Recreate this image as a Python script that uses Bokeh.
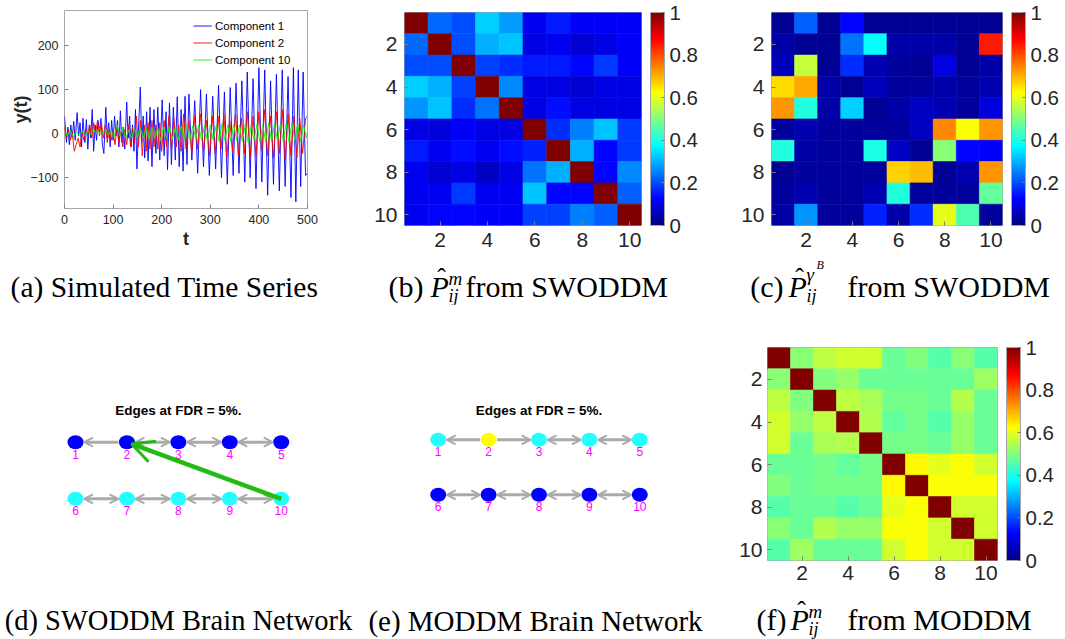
import numpy as np
from bokeh.plotting import figure
from bokeh.layouts import row, column
from bokeh.models import (ColumnDataSource, LinearColorMapper, ColorBar, FixedTicker,
                          CustomJSTickFormatter, Label, Arrow, OpenHead, Range1d,
                          Legend, LegendItem)
from bokeh.core.properties import value
from bokeh.embed import file_html
from bokeh.resources import INLINE

# ---------------------------------------------------------------------------
# Simulated time series, traced as turning points (t, y)
# ---------------------------------------------------------------------------
comp1 = [(0, 40), (4, -20), (7, 15), (10, -25), (13, 20), (16, -10), (19, 28), (22, -15),
         (26, 48), (29, -5), (32, 25), (35, -30), (38, 35), (42, -20), (45, 32), (48, -35),
         (51, 20), (54, -10), (57, 55), (60, -40), (63, 20), (66, -15), (69, 30), (72, 5),
         (75, 35), (78, -25), (81, -45), (85, 60), (88, -10), (91, 25), (94, -30), (97, 30),
         (100, -15), (103, 40), (106, -5), (109, 30), (112, -30), (115, 52), (118, -20),
         (121, 15), (124, -35), (128, 72), (131, -10), (134, 40), (137, -30), (140, 20),
         (143, -40), (146, 55), (149, -80), (153, 30), (156, 106), (159, -20), (162, 40),
         (165, -55), (169, 50), (172, -62), (176, 60), (180, -75), (184, 55), (188, -45),
         (192, 60), (196, -60), (201, 77), (205, -50), (209, 50), (212, -82), (216, 70),
         (220, -70), (224, 60), (228, -60), (232, 84), (236, -75), (240, 55), (244, -85),
         (248, 85), (252, -70), (256, 90), (262, -60), (268, 75), (274, -90), (280, 100),
         (286, -75), (292, 90), (298, -95), (305, 85), (311, -80), (317, 110), (323, -100),
         (329, 95), (335, -115), (341, 105), (347, -95), (353, 115), (359, -90), (365, 120),
         (371, -110), (376, 140), (382, -100), (388, 125), (394, -125), (400, 150),
         (406, -110), (412, 145), (418, -140), (424, 120), (430, -115), (436, 135),
         (442, -130), (448, 145), (454, -120), (460, 130), (466, -145), (471, 150),
         (476, -155), (481, 145), (486, -120), (491, 140), (496, -95), (500, -90)]

comp2 = [(0, 15), (4, -10), (8, 10), (12, -15), (16, 5), (20, -40), (24, -25), (28, -10),
         (32, -30), (36, 5), (40, -15), (44, 10), (48, -5), (52, 20), (56, -10), (60, 25),
         (64, 0), (68, 30), (72, -5), (76, 25), (80, -10), (84, 20), (88, -20), (92, 10),
         (96, -15), (100, 5), (104, -25), (108, 15), (112, -20), (116, 5), (120, -30),
         (124, 10), (128, -25), (132, 20), (136, -30), (140, 15), (144, -20), (148, 40),
         (152, -30), (156, 30), (160, -50), (164, 20), (168, -40), (172, 25), (176, -35),
         (180, 30), (184, -30), (188, 20), (192, -35), (196, 25), (200, -40), (205, 30),
         (210, -30), (215, 40), (220, -35), (225, 35), (230, -30), (235, 20), (240, -40),
         (245, 45), (250, -35), (256, 30), (262, -45), (268, 40), (274, -35), (280, 45),
         (286, -40), (292, 30), (298, -50), (304, 40), (310, -45), (316, 40), (322, -35),
         (328, 45), (334, -55), (340, 30), (346, -40), (352, 45), (358, -50), (364, 35),
         (370, -45), (376, 50), (382, -55), (388, 40), (394, -50), (400, 50), (406, -40),
         (412, 55), (418, -50), (424, 40), (430, -55), (436, 50), (442, -45), (448, 55),
         (454, -60), (460, 45), (466, -50), (472, 40), (478, -55), (484, 35), (490, -45),
         (496, 35), (500, 40)]

comp10 = [(0, 5), (6, -5), (12, 8), (18, -8), (24, 5), (30, -3), (36, 6), (42, -5), (48, 8),
          (54, -2), (60, 10), (66, 0), (72, 12), (78, 2), (84, 10), (90, -5), (96, 8),
          (102, -8), (108, 20), (114, -5), (120, 15), (126, -10), (132, 8), (138, -10),
          (144, 12), (150, -8), (156, 15), (162, -10), (168, 12), (174, -12), (180, 15),
          (186, -10), (192, 12), (198, -15), (204, 15), (210, -10), (216, 18), (222, -12),
          (228, 15), (234, -15), (240, 18), (246, -12), (252, 20), (258, -15), (264, 18),
          (270, -12), (276, 20), (282, -15), (288, 18), (294, -18), (300, 20), (306, -15),
          (312, 18), (318, -18), (324, 22), (330, -15), (336, 20), (342, -18), (348, 22),
          (354, -15), (360, 20), (366, -18), (372, 22), (378, -20), (384, 20), (390, -15),
          (396, 22), (402, -18), (408, 20), (414, -20), (420, 25), (426, -18), (432, 22),
          (438, -15), (444, 20), (450, -18), (456, 22), (462, -20), (468, 25), (474, -15),
          (480, 22), (486, -18), (492, 20), (498, -10), (500, 5)]

series_labels = ["Component 1", "Component 2", "Component 10"]
series_colors = ["#0000ff", "#ff0000", "#00ff00"]
ts_xticks = [0, 100, 200, 300, 400, 500]
ts_yticks = [-100, 0, 100, 200]

# ---------------------------------------------------------------------------
# Estimated connectivity matrices (row i, column j)
# ---------------------------------------------------------------------------
P_m_swoddm = [
    [1.00, 0.23, 0.20, 0.33, 0.28, 0.11, 0.15, 0.12, 0.12, 0.12],
    [0.23, 1.00, 0.20, 0.30, 0.32, 0.10, 0.11, 0.08, 0.10, 0.12],
    [0.20, 0.20, 1.00, 0.19, 0.17, 0.15, 0.15, 0.13, 0.18, 0.12],
    [0.33, 0.30, 0.19, 1.00, 0.26, 0.10, 0.10, 0.08, 0.10, 0.10],
    [0.27, 0.32, 0.17, 0.24, 1.00, 0.10, 0.14, 0.10, 0.10, 0.10],
    [0.10, 0.09, 0.12, 0.10, 0.10, 1.00, 0.17, 0.25, 0.32, 0.18],
    [0.15, 0.11, 0.14, 0.11, 0.14, 0.16, 1.00, 0.30, 0.13, 0.18],
    [0.11, 0.08, 0.10, 0.07, 0.10, 0.24, 0.30, 1.00, 0.13, 0.26],
    [0.11, 0.11, 0.18, 0.11, 0.11, 0.32, 0.13, 0.13, 1.00, 0.22],
    [0.11, 0.13, 0.13, 0.12, 0.12, 0.19, 0.19, 0.25, 0.22, 1.00],
]

P_gamma_swoddm = [
    [0.02, 0.22, 0.02, 0.13, 0.02, 0.02, 0.02, 0.02, 0.02, 0.02],
    [0.04, 0.02, 0.02, 0.24, 0.38, 0.04, 0.04, 0.04, 0.02, 0.85],
    [0.06, 0.57, 0.02, 0.17, 0.05, 0.03, 0.02, 0.10, 0.02, 0.04],
    [0.66, 0.71, 0.04, 0.02, 0.06, 0.03, 0.03, 0.04, 0.03, 0.05],
    [0.73, 0.41, 0.04, 0.33, 0.02, 0.04, 0.07, 0.05, 0.03, 0.09],
    [0.03, 0.05, 0.03, 0.03, 0.03, 0.03, 0.07, 0.74, 0.62, 0.73],
    [0.41, 0.04, 0.03, 0.03, 0.40, 0.07, 0.02, 0.51, 0.13, 0.12],
    [0.02, 0.03, 0.03, 0.03, 0.03, 0.67, 0.69, 0.02, 0.05, 0.73],
    [0.03, 0.05, 0.03, 0.03, 0.05, 0.41, 0.03, 0.03, 0.03, 0.47],
    [0.04, 0.27, 0.03, 0.03, 0.16, 0.04, 0.17, 0.60, 0.45, 0.03],
]

P_m_moddm = [
    [1.00, 0.51, 0.56, 0.58, 0.58, 0.48, 0.50, 0.46, 0.51, 0.46],
    [0.51, 1.00, 0.50, 0.52, 0.48, 0.48, 0.48, 0.48, 0.48, 0.53],
    [0.56, 0.50, 1.00, 0.56, 0.54, 0.49, 0.49, 0.48, 0.55, 0.48],
    [0.58, 0.52, 0.56, 1.00, 0.55, 0.47, 0.49, 0.46, 0.52, 0.48],
    [0.58, 0.48, 0.54, 0.55, 1.00, 0.49, 0.49, 0.48, 0.52, 0.48],
    [0.48, 0.48, 0.49, 0.47, 0.49, 1.00, 0.63, 0.60, 0.62, 0.58],
    [0.50, 0.48, 0.49, 0.49, 0.49, 0.63, 1.00, 0.62, 0.62, 0.62],
    [0.46, 0.48, 0.48, 0.46, 0.48, 0.60, 0.62, 1.00, 0.58, 0.58],
    [0.51, 0.48, 0.55, 0.52, 0.52, 0.62, 0.62, 0.58, 1.00, 0.58],
    [0.46, 0.53, 0.48, 0.48, 0.48, 0.58, 0.62, 0.58, 0.58, 1.00],
]

matrix_ticks = [2, 4, 6, 8, 10]
cbar_ticks = [0, 0.2, 0.4, 0.6, 0.8, 1]

# ---------------------------------------------------------------------------
# Brain network graphs: 10 regions on a 5 x 2 grid
# ---------------------------------------------------------------------------
node_labels = [str(i) for i in range(1, 11)]
node_col = [0, 1, 2, 3, 4, 0, 1, 2, 3, 4]
node_row = [0, 0, 0, 0, 0, 1, 1, 1, 1, 1]
colors_swoddm = ["#0000ff"] * 5 + ["#22ffff"] * 5
colors_moddm = ["#22ffff", "#ffff00", "#22ffff", "#22ffff", "#22ffff"] + ["#0000ff"] * 5

swoddm_both = [(2, 3), (3, 4), (4, 5), (6, 7), (7, 8), (8, 9), (9, 10)]
swoddm_head_first = [(1, 2)]
swoddm_head_second = []
swoddm_significant = [(10, 2)]

moddm_both = [(3, 4), (4, 5), (6, 7), (7, 8), (8, 9), (9, 10)]
moddm_head_first = [(1, 2)]
moddm_head_second = [(2, 3)]

SANS = "Liberation Sans"
SERIF = "Liberation Serif"
TICK_COLOR = "#262626"
BOX_COLOR = "#a6a6a6"
CAP = 30

# page layout: top row of panels, caption strip, bottom row, caption strip
W = 1065
ROW1_H = 256
ROW2_Y = 305
STRIP1_H = ROW2_Y - ROW1_H
STRIP2_Y = 590
ROW2_H = STRIP2_Y - ROW2_Y
STRIP2_H = 639 - STRIP2_Y
MATRIX_TOP = 12


def jet_palette(n=256):
    v = np.linspace(0, 1, n)
    r = np.clip(1.5 - np.abs(4 * v - 3), 0, 1)
    g = np.clip(1.5 - np.abs(4 * v - 2), 0, 1)
    b = np.clip(1.5 - np.abs(4 * v - 1), 0, 1)
    return ["#%02x%02x%02x" % (int(round(255 * a)), int(round(255 * c)), int(round(255 * d)))
            for a, c, d in zip(r, g, b)]


JET = jet_palette()


class Geo:
    """Maps page pixels to data coordinates for one figure's frame."""

    def __init__(self, x0, x1, y0, y1, dx0, dx1, dy0, dy1):
        self.x0, self.x1, self.y0, self.y1 = x0, x1, y0, y1
        self.dx0, self.dx1, self.dy0, self.dy1 = dx0, dx1, dy0, dy1

    def data(self, X, Y):
        x = self.dx0 + (X - self.x0) / (self.x1 - self.x0) * (self.dx1 - self.dx0)
        y = self.dy0 + (Y - self.y0) / (self.y1 - self.y0) * (self.dy1 - self.dy0)
        return x, y


def put_text(p, geo, X, Y, text, size, style="normal", align="left", font=SERIF,
             color="black", baseline="alphabetic"):
    x, y = geo.data(X, Y)
    p.add_layout(Label(x=x, y=y, text=text, text_font=font, text_font_size=f"{size}px",
                       text_font_style=style, text_align=align, text_baseline=baseline,
                       text_color=color))


def blank_figure(width, height, xr, yr):
    p = figure(width=width, height=height, x_range=xr, y_range=yr, x_axis_type=None,
               y_axis_type=None, output_backend="svg", toolbar_location=None, min_border=0,
               frame_align=False)
    p.outline_line_color = None
    p.background_fill_color = "white"
    p.border_fill_color = "white"
    return p


def style_box_axes(p, ticks_x, ticks_y, size, standoff):
    for ax, ticks in ((p.xaxis[0], ticks_x), (p.yaxis[0], ticks_y)):
        ax.ticker = FixedTicker(ticks=ticks)
        ax.major_label_text_font = SANS
        ax.major_label_text_font_size = size
        ax.major_label_text_color = TICK_COLOR
        ax.axis_line_color = None
        ax.major_tick_in = 4
        ax.major_tick_out = 0
        ax.major_tick_line_color = "#7f7f7f"
        ax.minor_tick_line_color = None
        ax.major_label_standoff = standoff
    p.grid.visible = False
    p.outline_line_color = BOX_COLOR
    p.background_fill_color = "white"
    p.border_fill_color = "white"


# ---------------------------------------------------------------------------
# (a) time series
# ---------------------------------------------------------------------------
pa = figure(width=340, height=ROW1_H, x_range=Range1d(0, 500), y_range=Range1d(-170, 280),
            output_backend="svg", toolbar_location=None, frame_align=False,
            min_border_left=64, min_border_right=33, min_border_top=10,
            min_border_bottom=ROW1_H - 208)
style_box_axes(pa, ts_xticks, ts_yticks, "12.5px", 6)
renderers = []
for data, col in zip((comp1, comp2, comp10), series_colors):
    t, y = zip(*data)
    renderers.append(pa.line(list(t), list(y), line_color=col, line_width=1, line_alpha=0.9))
pa.xaxis.axis_label = "t"
pa.yaxis.axis_label = "y(t)"
for ax in (pa.xaxis[0], pa.yaxis[0]):
    ax.axis_label_text_font = SANS
    ax.axis_label_text_font_style = "bold"
    ax.axis_label_text_font_size = "18px"
    ax.axis_label_text_color = TICK_COLOR
pa.xaxis.axis_label_standoff = 2
pa.yaxis.axis_label_standoff = -4
legend = Legend(items=[LegendItem(label=lab, renderers=[r]) for lab, r in zip(series_labels, renderers)],
                location=(129, 140), label_text_font=SANS, label_text_font_size="11.5px",
                label_text_color="black", glyph_width=19, glyph_height=17, label_height=17,
                label_standoff=3, spacing=0, padding=0, margin=0,
                border_line_color=None, background_fill_alpha=0)
pa.add_layout(legend)


# ---------------------------------------------------------------------------
# matrix panels
# ---------------------------------------------------------------------------
def matrix_panel(mat, width, height, left, right, top, bottom, standoff):
    p = figure(width=width, height=height, x_range=Range1d(0.5, 10.5), y_range=Range1d(10.5, 0.5),
               output_backend="svg", toolbar_location=None, frame_align=False,
               min_border_left=left, min_border_right=right, min_border_top=top,
               min_border_bottom=bottom)
    xs, ys, vs = [], [], []
    for i in range(10):
        for j in range(10):
            xs.append(j + 1)
            ys.append(i + 1)
            vs.append(mat[i][j])
    mapper = LinearColorMapper(palette=JET, low=0, high=1)
    src = ColumnDataSource(dict(x=xs, y=ys, v=vs))
    p.rect("x", "y", 1, 1, source=src, fill_color={"field": "v", "transform": mapper},
           line_color={"field": "v", "transform": mapper}, line_width=0.6)
    style_box_axes(p, matrix_ticks, matrix_ticks, "21px", standoff)
    frame_h = height - top - bottom
    cb = ColorBar(color_mapper=mapper, ticker=FixedTicker(ticks=cbar_ticks),
                  formatter=CustomJSTickFormatter(code="return tick.toString()"),
                  width=14, height=frame_h, margin=0, padding=0, location=(9, 0),
                  major_label_text_font=SANS, major_label_text_font_size="20.5px",
                  major_label_text_color=TICK_COLOR, label_standoff=5,
                  bar_line_color=BOX_COLOR, major_tick_line_color="#7f7f7f",
                  major_tick_in=3, major_tick_out=0, minor_tick_line_color=None,
                  background_fill_alpha=0)
    p.add_layout(cb, "right")
    return p


pb = matrix_panel(P_m_swoddm, 360, ROW1_H, 64, 59, MATRIX_TOP, ROW1_H - 225, 7)
pc = matrix_panel(P_gamma_swoddm, 365, ROW1_H, 71, 63, MATRIX_TOP, ROW1_H - 225, 7)
pf = matrix_panel(P_m_moddm, 345, ROW2_H, 47, 68, 347 - ROW2_Y, STRIP2_Y - 560, 5)


# ---------------------------------------------------------------------------
# network panels
# ---------------------------------------------------------------------------
NODE_W, NODE_H = 16, 14
NODE_R = 8.5
GRAY = "#aaaaaa"


def network_panel(page_x, width, height, col0, row0, col_step, row_step, colors,
                  both, head_first, head_second, significant):
    xr = Range1d(-col0 / col_step, (width - col0) / col_step)
    yr = Range1d((height - row0) / row_step, -row0 / row_step)
    p = blank_figure(width, height, xr, yr)
    geo = Geo(page_x, page_x + width, ROW2_Y, ROW2_Y + height, xr.start, xr.end, yr.end, yr.start)

    src = ColumnDataSource(dict(x=node_col, y=node_row, c=colors, lab=node_labels))
    p.ellipse("x", "y", width=NODE_W, height=NODE_H, width_units="screen",
              height_units="screen", fill_color="c", line_color=None, source=src)
    p.text("x", "y", text="lab", source=src, y_offset=12, text_align="center",
           text_baseline="middle", text_font=value(SANS), text_font_size=value("12px"),
           text_color="#ff00ff")

    r = NODE_R / col_step

    def edge_source(pairs):
        xs0, ys0, xs1, ys1 = [], [], [], []
        for a, b in pairs:
            xa, xb = node_col[a - 1], node_col[b - 1]
            ya = node_row[a - 1]
            s = 1 if xb > xa else -1
            xs0.append(xa + s * r)
            xs1.append(xb - s * r)
            ys0.append(ya)
            ys1.append(ya)
        return ColumnDataSource(dict(x0=xs0, y0=ys0, x1=xs1, y1=ys1))

    def head():
        return OpenHead(size=9, line_color=GRAY, line_width=2)

    groups = [(both, head(), head()), (head_first, head(), None), (head_second, None, head())]
    for pairs, h0, h1 in groups:
        if not pairs:
            continue
        p.add_layout(Arrow(x_start="x0", y_start="y0", x_end="x1", y_end="y1",
                           source=edge_source(pairs), start=h0, end=h1,
                           line_color=GRAY, line_width=3))

    for a, b in significant:
        xa, ya = node_col[a - 1], node_row[a - 1]
        xb, yb = node_col[b - 1], node_row[b - 1]
        vx, vy = (xb - xa) * col_step, (yb - ya) * row_step
        L = np.hypot(vx, vy)
        tip_x = xb - vx / L * 5 / col_step
        tip_y = yb - vy / L * 5 / row_step
        p.add_layout(Arrow(x_start=xa, y_start=ya, x_end=tip_x, y_end=tip_y,
                           line_color="#22bb11", line_width=4.5,
                           end=OpenHead(size=22, line_color="#22bb11", line_width=3)))

    put_text(p, geo, page_x + col0 + 2 * col_step, 410, "Edges at FDR = 5%.", 13.5,
             style="bold", align="center", font=SANS, baseline="middle")
    return p


pd_ = network_panel(0, 360, ROW2_H, 75, 441.7 - ROW2_Y, 51.43, 56.6, colors_swoddm,
                    swoddm_both, swoddm_head_first, swoddm_head_second, swoddm_significant)
pe = network_panel(360, 360, ROW2_H, 77.7, 439.3 - ROW2_Y, 50.4, 55.0, colors_moddm,
                   moddm_both, moddm_head_first, moddm_head_second, [])


# ---------------------------------------------------------------------------
# caption strips (data units are page pixels)
# ---------------------------------------------------------------------------
strip1 = blank_figure(W, STRIP1_H, Range1d(0, W), Range1d(ROW2_Y, ROW1_H))
strip2 = blank_figure(W, STRIP2_H, Range1d(0, W), Range1d(STRIP2_Y + STRIP2_H, STRIP2_Y))
geo_s1 = Geo(0, W, ROW1_H, ROW2_Y, 0, W, ROW1_H, ROW2_Y)
geo_s2 = Geo(0, W, STRIP2_Y, STRIP2_Y + STRIP2_H, 0, W, STRIP2_Y, STRIP2_Y + STRIP2_H)


def math_caption(p, geo, tag, tag_end, p_x, sup, sub_x, tail, tail_x, base):
    put_text(p, geo, tag_end, base, tag, CAP, align="right")
    put_text(p, geo, p_x, base, "P", CAP, style="italic")
    put_text(p, geo, p_x + 11, base - 9, "ˆ", 26, align="center")
    for txt, x, dy, size in sup:
        put_text(p, geo, x, base + dy, txt, size, style="italic")
    put_text(p, geo, sub_x, base + 9, "ij", 18, style="italic")
    put_text(p, geo, tail_x, base, tail, CAP)


put_text(strip1, geo_s1, 164, 286, "(a) Simulated Time Series", 29.5, align="center")
math_caption(strip1, geo_s1, "(b)", 423, 430, [("m", 448, -8, 19)], 448, "from SWODDM", 465, 286)
math_caption(strip1, geo_s1, "(c)", 783, 788, [("γ", 806, -12, 19), ("B", 816, -22, 12)], 806,
             "from SWODDM", 847, 286)

put_text(strip2, geo_s2, 178, 620, "(d) SWODDM Brain Network", 28.5, align="center")
put_text(strip2, geo_s2, 535, 620, "(e) MODDM Brain Network", 29, align="center")
math_caption(strip2, geo_s2, "(f)", 786, 790, [("m", 808, -8, 19)], 808, "from MODDM", 847, 619)

layout = column(row(pa, pb, pc), strip1, row(pd_, pe, pf), strip2)
open("out.html", "w").write(file_html(layout, INLINE))
